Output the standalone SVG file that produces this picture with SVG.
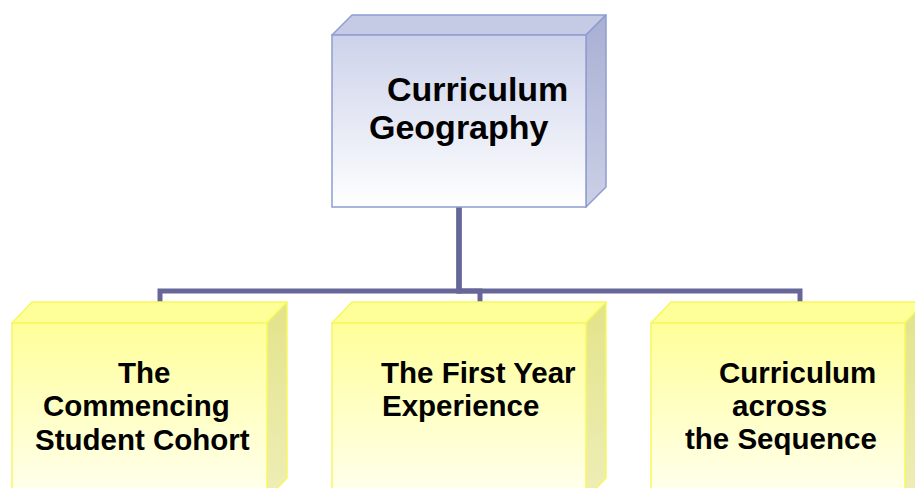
<svg xmlns="http://www.w3.org/2000/svg" width="915" height="488" viewBox="0 0 915 488">
<defs>
<linearGradient id="gBlue" x1="0" y1="0" x2="0" y2="1">
<stop offset="0" stop-color="#ccd2ea"/>
<stop offset="1" stop-color="#ffffff"/>
</linearGradient>
<linearGradient id="gBlueSide" x1="0" y1="0" x2="0" y2="1">
<stop offset="0" stop-color="#a8afd3"/>
<stop offset="1" stop-color="#cbd0e6"/>
</linearGradient>
<linearGradient id="gYellow" x1="0" y1="0" x2="0" y2="1">
<stop offset="0" stop-color="#ffff99"/>
<stop offset="1" stop-color="#fffff2"/>
</linearGradient>
<linearGradient id="gYellowSide" x1="0" y1="0" x2="0" y2="1">
<stop offset="0" stop-color="#e3e38a"/>
<stop offset="1" stop-color="#eeeeb8"/>
</linearGradient>
</defs>
<style>
.bt{fill:#c5cbe4;stroke:#8e9dd1;stroke-width:1.5;stroke-linejoin:round}
.bs{fill:url(#gBlueSide);stroke:#8e9dd1;stroke-width:1.5;stroke-linejoin:round}
.bf{fill:url(#gBlue);stroke:#8e9dd1;stroke-width:1.5}
.yt{fill:#ffff99;stroke:#f7f760;stroke-width:1.5;stroke-linejoin:round}
.ys{fill:url(#gYellowSide);stroke:#f7f760;stroke-width:1.5;stroke-linejoin:round}
.yf{fill:url(#gYellow);stroke:#f7f760;stroke-width:1.5}
.lbl{font-family:"Liberation Sans",Arial,sans-serif;font-weight:bold;fill:#000}
.big{font-size:34px}
.sm{font-size:29.5px}
.con{fill:none;stroke:#666699;stroke-width:5;stroke-linejoin:miter}
</style>
<g id="connectors">
<path class="con" d="M459 207 V291 H160 V302"/>
<path class="con" d="M459 207 V291 H480 V302"/>
<path class="con" d="M459 207 V291 H800 V302"/>
</g>
<g id="root">
<polygon class="bt" points="332,35 352,15 606,15 586,35"/>
<polygon class="bs" points="586,35 606,15 606,187 586,207"/>
<rect class="bf" x="332" y="35" width="254" height="172"/>
<text class="lbl big" x="387" y="101">Curriculum</text>
<text class="lbl big" x="369" y="139">Geography</text>
</g>
<g id="cohort">
<polygon class="yt" points="12,323 32,302 287,302 267,323"/>
<polygon class="ys" points="267,323 287,302 287,478 267,499"/>
<rect class="yf" x="12" y="323" width="255" height="180"/>
<text class="lbl sm" x="118" y="383">The</text>
<text class="lbl sm" x="43" y="416">Commencing</text>
<text class="lbl sm" x="35" y="450">Student Cohort</text>
</g>
<g id="firstyear">
<polygon class="yt" points="332,323 352,302 606,302 586,323"/>
<polygon class="ys" points="586,323 606,302 606,478 586,499"/>
<rect class="yf" x="332" y="323" width="254" height="180"/>
<text class="lbl sm" x="381" y="383">The First Year</text>
<text class="lbl sm" x="382" y="416">Experience</text>
</g>
<g id="sequence">
<polygon class="yt" points="651,323 671,302 925,302 905,323"/>
<polygon class="ys" points="905,323 925,302 925,478 905,499"/>
<rect class="yf" x="651" y="323" width="254" height="180"/>
<text class="lbl sm" x="719" y="383">Curriculum</text>
<text class="lbl sm" x="732" y="416">across</text>
<text class="lbl sm" x="685" y="449">the Sequence</text>
</g>
</svg>
